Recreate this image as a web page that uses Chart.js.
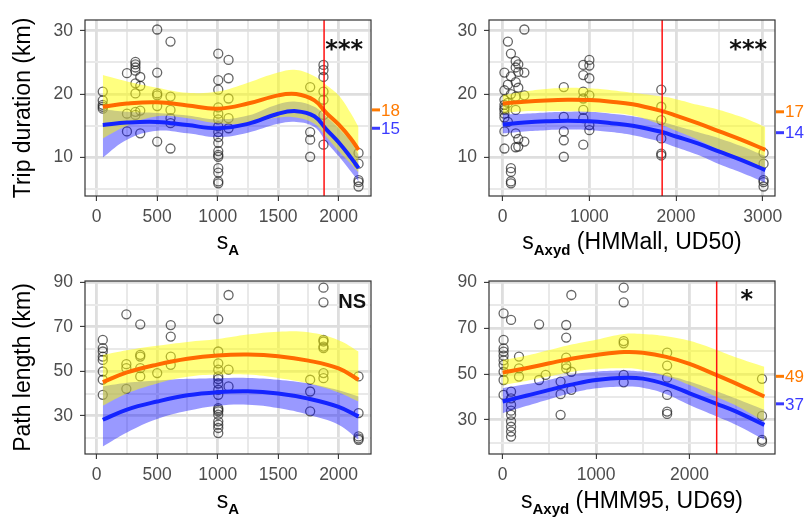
<!DOCTYPE html>
<html>
<head>
<meta charset="utf-8">
<script src="https://cdn.jsdelivr.net/npm/chart.js@4.4.1/dist/chart.umd.min.js"></script>
<style>
  body { margin: 0; background: #fff; width: 808px; height: 517px; position: relative; overflow: hidden;
         font-family: "Liberation Sans", Arial, sans-serif; }
  canvas { position: absolute; }
  .xt { position: absolute; font-size: 23px; line-height: 1; color: #000; white-space: nowrap; transform: translateX(-50%); }
  .xt .sub { font-size: 15px; font-weight: bold; position: relative; top: 6px; }
</style>
</head>
<body>
<canvas id="c1" width="404" height="258" style="left:0;top:0"></canvas>
<canvas id="c2" width="404" height="258" style="left:404px;top:0"></canvas>
<canvas id="c3" width="404" height="258" style="left:0;top:258px"></canvas>
<canvas id="c4" width="404" height="258" style="left:404px;top:258px"></canvas>
<div class="xt" style="left:228px;top:230px">s<span class="sub">A</span></div>
<div class="xt" style="left:632px;top:230px">s<span class="sub">Axyd</span> (HMMall, UD50)</div>
<div class="xt" style="left:228px;top:489px">s<span class="sub">A</span></div>
<div class="xt" style="left:632px;top:489px">s<span class="sub">Axyd</span> (HMM95, UD69)</div>
<script>
// ---------------- Colours ------------------------------------------------
const ORANGE      = '#FF6A00' ;
const BLUE        = '#1424FF' ;
const YEL_BAND    = 'rgba(255,255,0,0.5)' ;
const BLUE_BAND   = 'rgba(0,0,255,0.4)' ;
const POINT_COLOR = 'rgba(35,35,35,0.7)' ;
const LBL_ORANGE  = '#FF7A00' ;
const LBL_BLUE    = '#3A3AFF' ;

// ---------------- Tick lists ---------------------------------------------
const X_TICKS_SA   = [ 0, 250, 500, 750, 1000, 1250, 1500, 1750, 2000, 2250 ] ;
const X_MAJOR_SA   = [ 0, 500, 1000, 1500, 2000 ] ;
const X_TICKS_UD50 = [ 0, 500, 1000, 1500, 2000, 2500, 3000 ] ;
const X_MAJOR_UD50 = [ 0, 1000, 2000, 3000 ] ;
const X_TICKS_UD69 = [ 0, 500, 1000, 1500, 2000, 2500 ] ;
const X_MAJOR_UD69 = [ 0, 1000, 2000 ] ;
const Y_TICKS_TRIP = [ 5, 10, 15, 20, 25, 30 ] ;
const Y_MAJOR_TRIP = [ 10, 20, 30 ] ;
const Y_TICKS_PATH = [ 20, 30, 40, 50, 60, 70, 80, 90 ] ;
const Y_MAJOR_PATH = [ 30, 50, 70, 90 ] ;

// ---------------- Panel 1 : trip duration vs sA --------------------------
const P1_PT_X = [ 50, 250, 320, 360, 500, 610, 1005, 1090, 1765, 1875, 2165 ] ;
const P1_PT_Y = [
  [ 20.4, 19.0, 18.3, 18.0, 17.7 ],
  [ 23.3, 16.9, 14.1 ],
  [ 25.1, 24.7, 24.2, 23.7, 21.7, 20.1, 17.2, 16.7 ],
  [ 22.7, 21.3, 17.4, 13.8 ],
  [ 30.2, 23.4, 20.1, 19.8, 18.1, 12.5 ],
  [ 28.3, 19.6, 17.5, 16.2, 15.4, 11.4 ],
  [ 26.4, 22.2, 20.7, 17.9, 16.9, 16.0, 14.9, 14.0, 13.2, 12.3, 11.0, 10.4, 10.1, 8.3, 7.6, 6.2, 5.9 ],
  [ 25.4, 22.5, 19.3, 16.2, 14.6 ],
  [ 21.1, 14.0, 12.8, 10.1 ],
  [ 24.6, 23.8, 22.7, 20.4, 19.1, 16.7, 12.0 ],
  [ 10.7, 9.0, 6.4, 6.1, 5.4 ]
] ;
const P1_FIT_X   = [ 50, 250, 500, 750, 1000, 1250, 1500, 1650, 1800, 1900, 2000, 2100, 2165 ] ;
const P1_ORANGE  = [ 18.0, 18.5, 18.7, 18.2, 17.7, 18.5, 19.8, 20.0, 19.0, 17.0, 15.2, 13.0, 11.2 ] ;
const P1_YEL_HI  = [ 23.0, 22.0, 21.0, 20.2, 20.4, 21.8, 23.4, 23.8, 22.8, 21.4, 19.8, 17.0, 14.8 ] ;
const P1_YEL_LO  = [ 13.0, 15.0, 16.5, 16.2, 15.4, 15.4, 16.3, 16.3, 15.3, 13.2, 11.0, 9.0, 7.6 ] ;
const P1_BLUE    = [ 15.1, 15.5, 15.6, 15.1, 14.6, 15.3, 16.9, 17.3, 16.5, 14.4, 12.4, 10.0, 8.3 ] ;
const P1_BLUE_HI = [ 17.6, 17.2, 17.0, 16.6, 16.0, 16.6, 18.4, 18.8, 18.0, 16.4, 14.6, 12.5, 10.4 ] ;
const P1_BLUE_LO = [ 10.0, 12.8, 14.2, 13.8, 13.2, 13.9, 15.3, 15.6, 14.8, 12.4, 10.2, 7.8, 6.2 ] ;

// ---------------- Panel 2 : trip duration vs sAxyd (HMMall, UD50) --------
const P2_PT_X = [ 20, 60, 95, 150, 180, 250, 705, 930, 1000, 1830, 3010 ] ;
const P2_PT_Y = [
  [ 23.4, 20.6, 19.1, 18.3, 17.8, 17.5, 16.9, 16.3, 14.1, 11.4 ],
  [ 28.3, 21.5, 18.6, 15.6 ],
  [ 26.4, 22.8, 20.0, 8.3, 7.7, 6.2, 5.9 ],
  [ 25.2, 24.2, 21.9, 19.6, 17.5, 13.8, 11.6 ],
  [ 24.7, 23.5, 21.0, 12.9, 11.7 ],
  [ 30.2, 23.4, 19.8, 12.5 ],
  [ 21.1, 16.4, 14.1, 12.7, 10.1 ],
  [ 24.6, 23.0, 20.4, 19.3, 17.5, 16.2, 12.0 ],
  [ 25.4, 24.5, 22.5, 19.8, 15.1, 14.3 ],
  [ 20.7, 18.0, 15.9, 13.0, 10.6, 10.3 ],
  [ 10.7, 9.0, 6.4, 6.1, 5.4 ]
] ;
const P2_FIT_X   = [ 0, 250, 500, 750, 1000, 1250, 1500, 1840, 2000, 2250, 2500, 2750, 3030 ] ;
const P2_ORANGE  = [ 18.5, 18.8, 19.0, 19.1, 19.05, 18.8, 18.4, 17.3, 16.6, 15.4, 14.1, 12.8, 11.2 ] ;
const P2_YEL_HI  = [ 19.8, 20.4, 20.8, 21.0, 20.9, 20.6, 20.2, 19.6, 19.2, 18.3, 17.5, 16.4, 14.8 ] ;
const P2_YEL_LO  = [ 17.0, 17.3, 17.3, 17.3, 17.2, 17.0, 16.6, 15.1, 14.2, 12.8, 11.2, 9.9, 8.0 ] ;
const P2_BLUE    = [ 15.2, 15.5, 15.7, 15.8, 15.7, 15.4, 15.0, 14.0, 13.3, 12.2, 10.9, 9.6, 8.0 ] ;
const P2_BLUE_HI = [ 16.8, 16.9, 17.1, 17.2, 17.2, 16.9, 16.5, 15.6, 15.0, 14.0, 13.0, 11.8, 10.2 ] ;
const P2_BLUE_LO = [ 13.8, 14.1, 14.3, 14.4, 14.3, 14.0, 13.5, 12.4, 11.6, 10.4, 8.9, 7.6, 6.0 ] ;

// ---------------- Panel 3 : path length vs sA ----------------------------
const P3_PT_X = [ 50, 245, 360, 500, 612, 1005, 1090, 1765, 1875, 2165 ] ;
const P3_PT_Y = [
  [ 64.1, 60.4, 58.9, 56.6, 55.1, 49.9, 46.2, 39.4 ],
  [ 75.6, 53.2, 51.4, 42.1 ],
  [ 71.1, 57.4, 56.6, 51.4, 47.7 ],
  [ 49.2 ],
  [ 70.8, 65.6, 56.6, 52.9 ],
  [ 73.5, 58.9, 53.6, 50.7, 47.7, 46.5, 44.5, 41.7, 39.4, 33.4, 32.7, 32.0, 30.5, 27.5, 26.0, 24.5, 22.2 ],
  [ 84.3, 50.7, 43.2 ],
  [ 46.2, 40.9, 32.0 ],
  [ 87.6, 81.0, 64.1, 63.4, 61.1, 60.4, 49.2, 46.9 ],
  [ 47.7, 31.2, 20.7, 19.8, 19.2 ]
] ;
const P3_FIT_X   = [ 50, 250, 500, 750, 1000, 1250, 1500, 1750, 2000, 2165 ] ;
const P3_ORANGE  = [ 45.1, 49.5, 53.0, 55.6, 57.1, 57.5, 56.8, 54.8, 51.3, 46.2 ] ;
const P3_YEL_HI  = [ 57.4, 59.5, 61.5, 63.2, 64.5, 66.5, 67.8, 67.5, 64.0, 58.9 ] ;
const P3_YEL_LO  = [ 34.5, 40.0, 44.5, 47.5, 48.5, 48.5, 47.0, 44.5, 40.5, 36.4 ] ;
const P3_BLUE    = [ 28.2, 32.8, 36.4, 39.2, 40.6, 41.0, 40.0, 37.7, 34.0, 29.7 ] ;
const P3_BLUE_HI = [ 43.2, 44.8, 45.8, 46.6, 46.9, 47.0, 46.2, 44.5, 41.5, 38.7 ] ;
const P3_BLUE_LO = [ 16.2, 22.5, 28.5, 32.2, 34.5, 35.0, 33.5, 30.5, 26.0, 19.2 ] ;

// ---------------- Panel 4 : path length vs sAxyd (HMM95, UD69) -----------
const P4_PT_X = [ 10, 90, 175, 390, 460, 620, 680, 735, 1295, 1760, 2775 ] ;
const P4_PT_Y = [
  [ 76.5, 64.9, 61.2, 59.8, 58.0, 56.0, 54.0, 51.0, 47.4, 40.9 ],
  [ 73.6, 42.3, 39.4, 36.5, 34.0, 32.2, 29.3, 27.0, 24.9, 22.7 ],
  [ 57.6, 52.5, 48.9 ],
  [ 71.7, 47.4 ],
  [ 49.6 ],
  [ 46.7, 41.2, 32.2 ],
  [ 71.4, 65.9, 57.2, 54.0, 52.5 ],
  [ 84.5, 51.0, 43.1 ],
  [ 87.7, 81.3, 64.4, 63.4, 49.6, 46.4 ],
  [ 59.3, 53.7, 48.4, 40.9, 33.6, 32.6 ],
  [ 47.9, 31.7, 21.3, 20.5 ]
] ;
const P4_FIT_X   = [ 0, 250, 500, 750, 1000, 1300, 1500, 1750, 2000, 2290, 2500, 2800 ] ;
const P4_ORANGE  = [ 50.6, 52.5, 54.7, 56.8, 58.3, 59.6, 59.3, 57.5, 54.4, 49.5, 45.8, 40.2 ] ;
const P4_YEL_HI  = [ 56.1, 58.0, 60.5, 63.0, 65.0, 67.5, 67.5, 66.5, 64.5, 60.5, 57.2, 53.2 ] ;
const P4_YEL_LO  = [ 45.2, 47.0, 49.0, 51.0, 52.2, 52.5, 51.8, 49.0, 45.2, 40.0, 36.2, 29.3 ] ;
const P4_BLUE    = [ 38.0, 40.5, 43.1, 45.5, 47.4, 48.4, 48.0, 45.5, 41.6, 37.0, 33.6, 27.8 ] ;
const P4_BLUE_HI = [ 43.8, 45.5, 47.5, 49.8, 51.0, 51.5, 51.0, 49.5, 46.7, 42.5, 39.2, 34.4 ] ;
const P4_BLUE_LO = [ 32.9, 36.0, 39.0, 41.8, 43.8, 44.5, 44.0, 41.2, 36.5, 31.5, 27.8, 21.3 ] ;

// ---------------- Thresholds and end labels ------------------------------
const P1_THRESHOLD = 1880 ;
const P2_THRESHOLD = 1840 ;
const P4_THRESHOLD = 2290 ;
const P1_END = [ { text: '18', value: 17.5, color: LBL_ORANGE }, { text: '15', value: 14.6, color: LBL_BLUE } ] ;
const P2_END = [ { text: '17', value: 17.2, color: LBL_ORANGE }, { text: '14', value: 13.9, color: LBL_BLUE } ] ;
const P4_END = [ { text: '49', value: 49.0, color: LBL_ORANGE }, { text: '37', value: 37.0, color: LBL_BLUE } ] ;

Chart.defaults.font.family = '"Liberation Sans", Arial, sans-serif' ;

// draws threshold line, panel border, end labels and significance text
const decorPlugin = {
    id: 'decor',
    afterDatasetsDraw( chart, args, o ) {
        const ctx = chart.ctx ;
        const a = chart.chartArea ;
        const x = chart.scales.x ;
        const y = chart.scales.y ;
        ctx.save() ;
        if( o.threshold != null ) {
            const px = x.getPixelForValue( o.threshold ) ;
            ctx.strokeStyle = '#FF1010' ;
            ctx.lineWidth = 1.5 ;
            ctx.beginPath() ;
            ctx.moveTo( px, a.top ) ;
            ctx.lineTo( px, a.bottom ) ;
            ctx.stroke() ;
        }
        ctx.strokeStyle = '#333333' ;
        ctx.lineWidth = 1.2 ;
        ctx.strokeRect( a.left, a.top, a.right - a.left, a.bottom - a.top ) ;

        ( o.ends || [] ).forEach( function( e ) {
            const py = y.getPixelForValue( e.value ) ;
            ctx.strokeStyle = e.color ;
            ctx.lineWidth = 3 ;
            ctx.beginPath() ;
            ctx.moveTo( a.right + 1, py ) ;
            ctx.lineTo( a.right + 9, py ) ;
            ctx.stroke() ;
            ctx.fillStyle = e.color ;
            ctx.font = '17px "Liberation Sans", Arial, sans-serif' ;
            ctx.textAlign = 'left' ;
            ctx.textBaseline = 'middle' ;
            ctx.fillText( e.text, a.right + 10, py + 1 ) ;
        } ) ;

        if( o.sig ) {
            ctx.fillStyle = '#111111' ;
            ctx.font = o.sig.font ;
            ctx.textAlign = 'right' ;
            ctx.textBaseline = 'alphabetic' ;
            ctx.fillText( o.sig.text, a.right - o.sig.dx, a.top + o.sig.dy ) ;
        }
        ctx.restore() ;
    }
} ;

function toXY( xs, ys ) {
    return xs.map( function( v, i ) { return { x: v, y: ys[i] } ; } ) ;
}

function gridOpts( majors ) {
    const isMajor = function( c ) { return c.tick && majors.includes( c.tick.value ) ; } ;
    return {
        color      : function( c ) { return isMajor( c ) ? '#DEDEDE' : '#E9E9E9' ; },
        lineWidth  : function( c ) { return isMajor( c ) ? 2.8 : 2 ; },
        tickColor  : function( c ) { return isMajor( c ) ? '#333333' : 'rgba(0,0,0,0)' ; },
        tickWidth  : 1.1,
        tickLength : 5,
    } ;
}

function drawPanel( id, p ) {

    var pts = [] ;
    p.ptX.forEach( function( xv, i ) {
        p.ptY[i].forEach( function( yv ) { pts.push( { x: xv, y: yv } ) ; } ) ;
    } ) ;

    const curve = { type: 'line', pointRadius: 0, tension: 0.4 } ;
    const hidden = 'rgba(0,0,0,0)' ;

    const datasets = [
        { type: 'scatter', data: pts, pointRadius: 4.5, borderWidth: 1.3,
          borderColor: POINT_COLOR, backgroundColor: hidden, order: 6 },
        Object.assign( {}, curve, { data: toXY( p.fitX, p.blueLo ), borderWidth: 0, borderColor: hidden, fill: false, order: 5 } ),
        Object.assign( {}, curve, { data: toXY( p.fitX, p.blueHi ), borderWidth: 0, borderColor: hidden, fill: '-1', backgroundColor: BLUE_BAND, order: 5 } ),
        Object.assign( {}, curve, { data: toXY( p.fitX, p.yelLo ), borderWidth: 0, borderColor: hidden, fill: false, order: 4 } ),
        Object.assign( {}, curve, { data: toXY( p.fitX, p.yelHi ), borderWidth: 0, borderColor: hidden, fill: '-1', backgroundColor: YEL_BAND, order: 4 } ),
        Object.assign( {}, curve, { data: toXY( p.fitX, p.blue ), borderWidth: 4, borderColor: BLUE, fill: false, order: 2 } ),
        Object.assign( {}, curve, { data: toXY( p.fitX, p.orange ), borderWidth: 4, borderColor: ORANGE, fill: false, order: 1 } ),
    ] ;

    const options = {
        responsive: false,
        animation: false,
        events: [],
        layout: { padding: { top: p.top, right: 33, bottom: 0, left: 0 } },
        plugins: {
            legend: { display: false },
            tooltip: { enabled: false },
            decor: { threshold: p.threshold, ends: p.ends, sig: p.sig },
        },
        scales: {
            x: {
                type: 'linear',
                min: p.xMin, max: p.xMax,
                afterBuildTicks: function( s ) { s.ticks = p.xTicks.map( function( v ) { return { value: v } ; } ) ; },
                afterFit: function( s ) { s.height = 62 ; },
                grid: gridOpts( p.xMajor ),
                border: { display: false },
                ticks: {
                    autoSkip: false, maxRotation: 0, color: '#4D4D4D', padding: 6,
                    font: { size: 17.5 },
                    callback: function( v ) { return p.xMajor.includes( v ) ? String( v ) : '' ; }
                }
            },
            y: {
                type: 'linear',
                min: p.yMin, max: p.yMax,
                afterBuildTicks: function( s ) { s.ticks = p.yTicks.map( function( v ) { return { value: v } ; } ) ; },
                afterFit: function( s ) { s.width = 85 ; },
                grid: gridOpts( p.yMajor ),
                border: { display: false },
                title: {
                    display: !!p.yTitle, text: p.yTitle, color: '#000000',
                    font: { size: 23 }, padding: { top: 10, bottom: 0 }
                },
                ticks: {
                    autoSkip: false, color: '#4D4D4D', padding: 7,
                    font: { size: 17.5 },
                    callback: function( v ) { return p.yMajor.includes( v ) ? String( v ) : '' ; }
                }
            }
        }
    } ;

    return new Chart( document.getElementById( id ), {
        data: { datasets: datasets },
        options: options,
        plugins: [ decorPlugin ]
    } ) ;
}

const STARS = 'bold 24px "DejaVu Sans", sans-serif' ;

drawPanel( 'c1', {
    ptX: P1_PT_X, ptY: P1_PT_Y, fitX: P1_FIT_X,
    orange: P1_ORANGE, yelHi: P1_YEL_HI, yelLo: P1_YEL_LO,
    blue: P1_BLUE, blueHi: P1_BLUE_HI, blueLo: P1_BLUE_LO,
    xMin: -97, xMax: 2268, xTicks: X_TICKS_SA, xMajor: X_MAJOR_SA,
    yMin: 3.9, yMax: 31.7, yTicks: Y_TICKS_TRIP, yMajor: Y_MAJOR_TRIP,
    yTitle: 'Trip duration (km)', top: 20,
    threshold: P1_THRESHOLD, ends: P1_END,
    sig: { text: '***', font: STARS, dx: 8, dy: 37 }
} ) ;

drawPanel( 'c2', {
    ptX: P2_PT_X, ptY: P2_PT_Y, fitX: P2_FIT_X,
    orange: P2_ORANGE, yelHi: P2_YEL_HI, yelLo: P2_YEL_LO,
    blue: P2_BLUE, blueHi: P2_BLUE_HI, blueLo: P2_BLUE_LO,
    xMin: -158, xMax: 3142, xTicks: X_TICKS_UD50, xMajor: X_MAJOR_UD50,
    yMin: 3.9, yMax: 31.7, yTicks: Y_TICKS_TRIP, yMajor: Y_MAJOR_TRIP,
    yTitle: null, top: 20,
    threshold: P2_THRESHOLD, ends: P2_END,
    sig: { text: '***', font: STARS, dx: 8, dy: 37 }
} ) ;

drawPanel( 'c3', {
    ptX: P3_PT_X, ptY: P3_PT_Y, fitX: P3_FIT_X,
    orange: P3_ORANGE, yelHi: P3_YEL_HI, yelLo: P3_YEL_LO,
    blue: P3_BLUE, blueHi: P3_BLUE_HI, blueLo: P3_BLUE_LO,
    xMin: -97, xMax: 2268, xTicks: X_TICKS_SA, xMajor: X_MAJOR_SA,
    yMin: 12.8, yMax: 90.6, yTicks: Y_TICKS_PATH, yMajor: Y_MAJOR_PATH,
    yTitle: 'Path length (km)', top: 23,
    threshold: null, ends: [],
    sig: { text: 'NS', font: 'bold 20px "Liberation Sans", Arial, sans-serif', dx: 5, dy: 27 }
} ) ;

drawPanel( 'c4', {
    ptX: P4_PT_X, ptY: P4_PT_Y, fitX: P4_FIT_X,
    orange: P4_ORANGE, yelHi: P4_YEL_HI, yelLo: P4_YEL_LO,
    blue: P4_BLUE, blueHi: P4_BLUE_HI, blueLo: P4_BLUE_LO,
    xMin: -146, xMax: 2914, xTicks: X_TICKS_UD69, xMajor: X_MAJOR_UD69,
    yMin: 15.1, yMax: 90.6, yTicks: Y_TICKS_PATH, yMajor: Y_MAJOR_PATH,
    yTitle: null, top: 23,
    threshold: P4_THRESHOLD, ends: P4_END,
    sig: { text: '*', font: STARS, dx: 22, dy: 26 }
} ) ;
</script>
</body>
</html>
